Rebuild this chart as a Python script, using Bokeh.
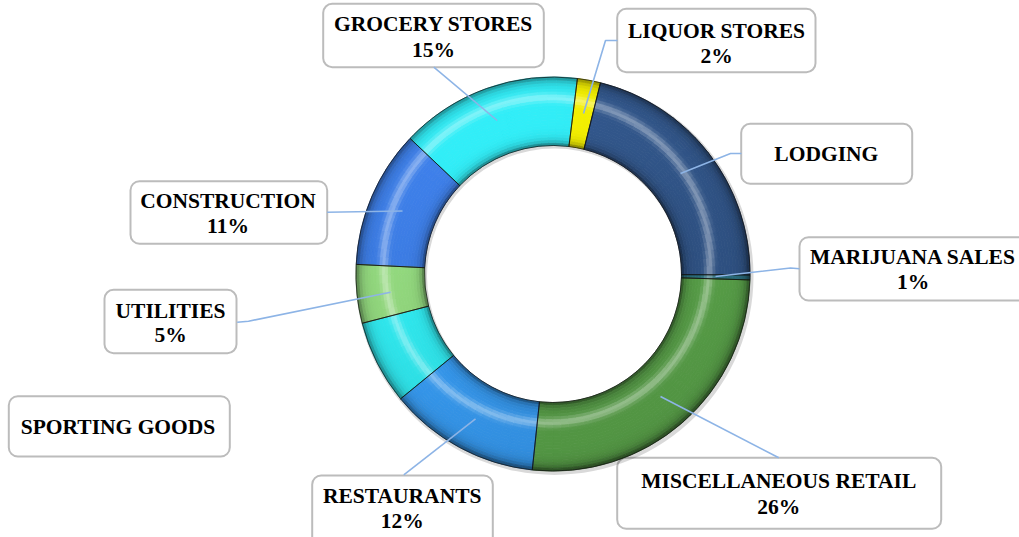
import numpy as np
from bokeh.plotting import figure
from bokeh.models import Range1d, BoxAnnotation, ColumnDataSource
from bokeh.core.properties import value
from bokeh.embed import file_html
from bokeh.resources import INLINE

# ---------------- data ----------------
categories = ["CONSTRUCTION", "GROCERY STORES", "LIQUOR STORES", "LODGING",
              "MARIJUANA SALES", "MISCELLANEOUS RETAIL", "RESTAURANTS",
              "SPORTING GOODS", "UTILITIES"]
shares = [11.3, 14.9, 1.9, 21.2, 0.4, 26.2, 12.4, 6.9, 4.8]
pct_labels = ["11%", "15%", "2%", "", "1%", "26%", "12%", "", "5%"]
colors = ["#3a78dc", "#2edfe8", "#e6e200", "#2f5284", "#2a6e7e",
          "#58a048", "#3598ee", "#2ee4ea", "#8ed27a"]

# ---------------- layout (page pixels) ----------------
CX, CY = 552.5, 273.5
R_OUT, R_IN = 197.0, 128.5
START_DEG = 272.8   # clockwise from 12 o'clock where first slice begins

# label boxes: left, right, top, bottom ; text centre x, line1 y, line2 y
boxes = [
    (130, 326.7, 180.7, 243.3, 227.5, 200.7, 225.0),   # construction
    (322.7, 543.3, 3.3, 66.7, 433.0, 23.3, 49.3),      # grocery
    (616.7, 815, 8.3, 71.7, 716.0, 30.0, 55.0),        # liquor
    (740.7, 911.7, 123.3, 183.3, 825.8, 153.3, None),  # lodging
    (799, 1040, 236.7, 300, 912.5, 256.7, 281.7),      # marijuana
    (616.7, 940.7, 457.3, 528.3, 778.3, 480.0, 506.0), # misc retail
    (311.7, 492.3, 475, 560, 401.7, 495.0, 520.7),     # restaurants
    (8.3, 229.3, 395.7, 456, 117.5, 426.7, None),      # sporting goods
    (104, 236, 289.3, 352.7, 170.0, 310.0, 334.0),     # utilities
]
leaders = [
    ([326.7, 402], [211.7, 210.5]),
    ([433.3, 496.7], [66.7, 120]),
    ([617, 605, 583], [40, 40, 113]),
    ([741, 730, 680], [153, 153, 173]),
    ([799, 790, 715], [268.3, 267.5, 276]),
    ([778.3, 660], [457.3, 396]),
    ([403.3, 475], [474.3, 418.3]),
    None,
    ([236.7, 248, 390], [321.7, 320.7, 291.7]),
]

p = figure(width=1019, height=537, output_backend="svg", toolbar_location=None,
           x_range=Range1d(0, 1019), y_range=Range1d(-537, 0),
           x_axis_type=None, y_axis_type=None, min_border=0,
           background_fill_color="white", border_fill_color="white")
p.grid.visible = False
p.outline_line_color = None

vals = np.array(shares, dtype=float)
cum = np.concatenate([[0], np.cumsum(vals)]) / vals.sum() * 360.0
cw_start = START_DEG + cum[:-1]
cw_end = START_DEG + cum[1:]
start_ang = np.deg2rad(90 - cw_start)
end_ang = np.deg2rad(90 - cw_end)

# label boxes (drawn beneath the glyphs)
for (l, r, t, b, tx, y1, y2) in boxes:
    p.add_layout(BoxAnnotation(left=l, right=r, top=-t, bottom=-b,
                               fill_color="white", fill_alpha=1.0,
                               line_color="#bcbcbc", line_alpha=1.0, line_width=2,
                               border_radius=9, level="underlay"))

# soft shadow under the ring
p.annular_wedge(x=CX + 1.5, y=-CY - 2, inner_radius=R_IN - 1, outer_radius=R_OUT + 2,
                start_angle=0, end_angle=2 * np.pi, fill_color="#000000",
                fill_alpha=0.15, line_color=None)

# ---------------- smoothly shaded slices ----------------
UL = np.array([-0.4, 0.9]); UL /= np.linalg.norm(UL)
thick = R_OUT - R_IN
NR = 24
r_edges = np.linspace(R_IN, R_OUT, NR + 1)


def hex2rgb(h):
    return np.array([int(h[i:i + 2], 16) for i in (1, 3, 5)], dtype=float)


cs, ce, ri, ro, cc = [], [], [], [], []
for k in range(len(shares)):
    a0, a1 = cw_start[k], cw_end[k]
    span = a1 - a0
    npc = max(1, int(np.ceil(span / 3.0)))
    ed = np.linspace(0, span, npc + 1)
    base = hex2rgb(colors[k])
    for j in range(npc):
        t0, t1 = a0 + ed[j], a0 + ed[j + 1]
        tc = 0.5 * (t0 + t1)
        phi = np.deg2rad(90 - tc)
        n = np.array([np.cos(phi), np.sin(phi)])
        facing = float(n @ UL)            # +1 top-left, -1 bottom-right
        t_h = 0.5 + 0.22 * facing         # highlight position across ring
        glob = 1 + 0.07 * facing
        for m in range(NR):
            t = ((r_edges[m] + r_edges[m + 1]) / 2 - R_IN) / thick
            dark_in = 0.55 * np.exp(-t / 0.06)
            dark_out = (0.45 + 0.15 * max(0, -facing)) * np.exp(-(1 - t) / 0.07)
            shade = glob * (1 - dark_in - dark_out)
            hl = 0.38 * np.exp(-((t - t_h) / 0.065) ** 2)
            col = base * shade * (1 - hl) + 255 * hl
            col = np.clip(col, 0, 255)
            cs.append(np.deg2rad(90 - t0)); ce.append(np.deg2rad(90 - t1))
            ri.append(r_edges[m]); ro.append(r_edges[m + 1])
            cc.append("#%02x%02x%02x" % tuple(int(round(v)) for v in col))

cell_src = ColumnDataSource(dict(s=cs, e=ce, ri=ri, ro=ro, c=cc))
p.annular_wedge(x=CX, y=-CY, inner_radius="ri", outer_radius="ro",
                start_angle="s", end_angle="e", direction="clock",
                fill_color="c", line_color="c", line_width=0.8, source=cell_src)

# slice separators / outline
p.annular_wedge(x=CX, y=-CY, inner_radius=R_IN, outer_radius=R_OUT,
                start_angle=start_ang, end_angle=end_ang, direction="clock",
                fill_color=None, line_color="#111111", line_width=1.0, line_alpha=0.7)

# leader lines
lx = [l[0] for l in leaders if l is not None]
ly = [[-v for v in l[1]] for l in leaders if l is not None]
p.multi_line(xs=lx, ys=ly, line_color="#8db4e6", line_width=1.6)

name_src = ColumnDataSource(dict(x=[b[4] for b in boxes],
                                 y=[-b[5] for b in boxes],
                                 t=categories))
pct_x = [b[4] for b, pl in zip(boxes, pct_labels) if pl]
pct_y = [-b[6] for b, pl in zip(boxes, pct_labels) if pl]
pct_t = [pl for pl in pct_labels if pl]
pct_src = ColumnDataSource(dict(x=pct_x, y=pct_y, t=pct_t))

for src in (name_src, pct_src):
    p.text(x="x", y="y", text="t", source=src,
           text_font=value("Liberation Serif"), text_font_style="bold",
           text_font_size="21.5px", text_color="#000000",
           text_align="center", text_baseline="middle")

open("out.html", "w").write(file_html(p, INLINE))
